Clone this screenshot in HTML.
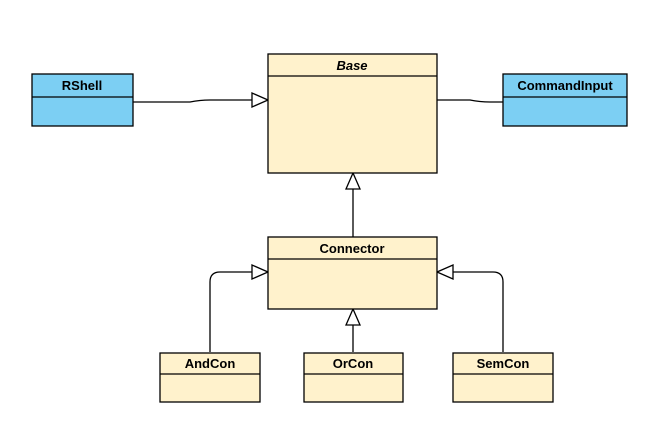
<!DOCTYPE html>
<html><head><style>
body{margin:0;background:#fff;}
svg text{font-family:"Liberation Sans",Arial,sans-serif;font-weight:bold;font-size:13px;}
</style></head><body>
<svg width="668" height="434" xmlns="http://www.w3.org/2000/svg">
<g stroke="#000" stroke-width="1.3" fill="none">
<path d="M133 102 L190 102 Q200 100 210 100 L252 100"/>
<path d="M437 100 L470 100 Q480 102 490 102 L503 102"/>
<path d="M353 189 L353 237"/>
<path d="M210 352 L210 282 Q210 272 220 272 L252 272"/>
<path d="M503 352 L503 282 Q503 272 493 272 L453 272"/>
<path d="M353 352 L353 325"/>
</g>
<g fill="#fff" stroke="#000" stroke-width="1.3">
<polygon points="268,100 252,93 252,107"/>
<polygon points="353,173 346,189 360,189"/>
<polygon points="268,272 252,265 252,279"/>
<polygon points="437,272 453,265 453,279"/>
<polygon points="353,309 346,325 360,325"/>
</g>
<g stroke="#000" stroke-width="1.3">
<rect x="268" y="54" width="169" height="119" fill="#fff2cc"/><line x1="268" y1="76" x2="437" y2="76"/>
<rect x="32" y="74" width="101" height="52" fill="#7ccff3"/><line x1="32" y1="97" x2="133" y2="97"/>
<rect x="503" y="74" width="124" height="52" fill="#7ccff3"/><line x1="503" y1="97" x2="627" y2="97"/>
<rect x="268" y="237" width="169" height="72" fill="#fff2cc"/><line x1="268" y1="259" x2="437" y2="259"/>
<rect x="160" y="353" width="100" height="49" fill="#fff2cc"/><line x1="160" y1="374" x2="260" y2="374"/>
<rect x="304" y="353" width="99" height="49" fill="#fff2cc"/><line x1="304" y1="374" x2="403" y2="374"/>
<rect x="453" y="353" width="100" height="49" fill="#fff2cc"/><line x1="453" y1="374" x2="553" y2="374"/>
</g>
<g text-anchor="middle" fill="#000">
<text x="352" y="70" font-style="italic">Base</text>
<text x="82" y="90">RShell</text>
<text x="565" y="90">CommandInput</text>
<text x="352" y="253">Connector</text>
<text x="210" y="368">AndCon</text>
<text x="353" y="368">OrCon</text>
<text x="503" y="368">SemCon</text>
</g>
</svg>
</body></html>
